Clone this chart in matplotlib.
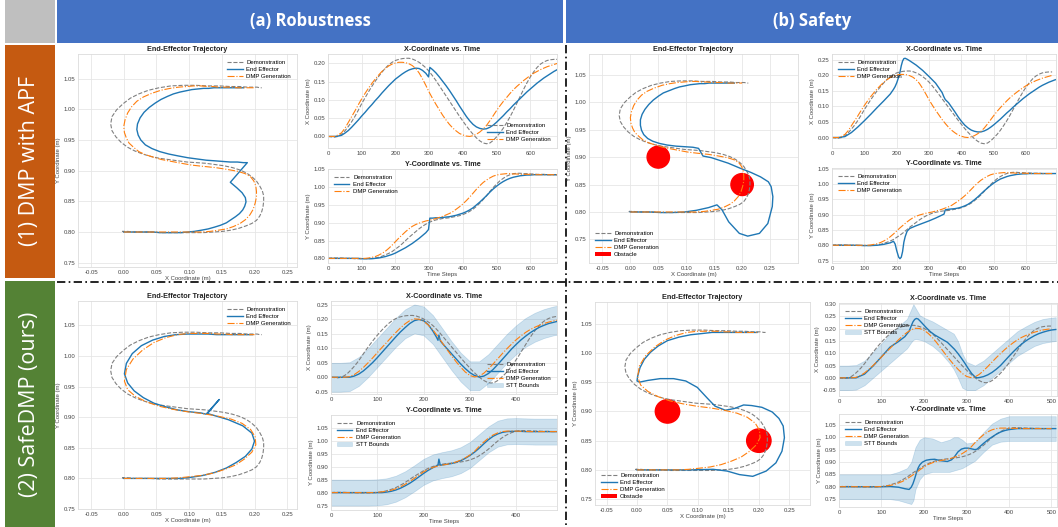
import matplotlib
matplotlib.use("Agg")
import matplotlib.pyplot as plt
import numpy as np
from matplotlib.lines import Line2D
from matplotlib.patches import Patch, Circle, Rectangle
from matplotlib.ticker import MultipleLocator

plt.rcParams['font.family'] = ['Liberation Sans', 'DejaVu Sans']
plt.rcParams['axes.unicode_minus'] = False

W, H = 1058, 527

# ---------------- demonstration + APF runs (680 steps) ----------------
t_top = np.arange(0, 681, 10)

demo_x = [0.000, -0.001, -0.002, 0.000, 0.006, 0.015, 0.027, 0.040, 0.055, 0.072, 0.090, 0.106,
          0.122, 0.137, 0.151, 0.164, 0.176, 0.187, 0.196, 0.203, 0.208, 0.211, 0.213, 0.214,
          0.214, 0.212, 0.208, 0.203, 0.196, 0.188, 0.178, 0.166, 0.153, 0.139, 0.125, 0.111,
          0.097, 0.083, 0.069, 0.055, 0.042, 0.029, 0.017, 0.006, -0.004, -0.012, -0.018, -0.020,
          -0.018, -0.011, -0.001, 0.010, 0.023, 0.038, 0.054, 0.072, 0.091, 0.110, 0.129, 0.147,
          0.163, 0.177, 0.189, 0.198, 0.204, 0.208, 0.210, 0.211, 0.211]
demo_y = [0.800, 0.801, 0.801, 0.801, 0.801, 0.800, 0.800, 0.800, 0.799, 0.799, 0.799, 0.799,
          0.799, 0.800, 0.801, 0.803, 0.806, 0.810, 0.814, 0.819, 0.826, 0.833, 0.841, 0.850,
          0.859, 0.867, 0.875, 0.883, 0.890, 0.896, 0.901, 0.905, 0.908, 0.910, 0.912, 0.913,
          0.914, 0.916, 0.918, 0.920, 0.923, 0.927, 0.932, 0.938, 0.946, 0.955, 0.965, 0.976,
          0.988, 0.999, 1.009, 1.018, 1.025, 1.031, 1.035, 1.038, 1.039, 1.039, 1.038, 1.038,
          1.037, 1.037, 1.036, 1.036, 1.036, 1.035, 1.035, 1.035, 1.035]

dmp_apf_x = [0.000, 0.000, 0.000, 0.004, 0.010, 0.022, 0.038, 0.054, 0.070, 0.087, 0.103, 0.118,
             0.132, 0.145, 0.157, 0.168, 0.178, 0.186, 0.193, 0.198, 0.201, 0.203, 0.203, 0.202,
             0.199, 0.194, 0.186, 0.174, 0.158, 0.140, 0.121, 0.104, 0.088, 0.073, 0.058, 0.045,
             0.033, 0.023, 0.015, 0.008, 0.004, 0.001, 0.000, 0.002, 0.006, 0.012, 0.020, 0.030,
             0.043, 0.057, 0.071, 0.084, 0.096, 0.107, 0.118, 0.128, 0.137, 0.145, 0.153, 0.160,
             0.167, 0.173, 0.178, 0.183, 0.187, 0.191, 0.194, 0.197, 0.200]
dmp_apf_y = [0.800, 0.800, 0.800, 0.800, 0.800, 0.800, 0.800, 0.800, 0.800, 0.800, 0.800, 0.800,
             0.801, 0.803, 0.805, 0.809, 0.814, 0.820, 0.828, 0.837, 0.847, 0.857, 0.866, 0.875,
             0.883, 0.890, 0.895, 0.899, 0.902, 0.905, 0.907, 0.909, 0.912, 0.915, 0.918, 0.922,
             0.926, 0.931, 0.938, 0.945, 0.953, 0.962, 0.972, 0.983, 0.994, 1.004, 1.013, 1.020,
             1.026, 1.031, 1.034, 1.036, 1.037, 1.038, 1.038, 1.037, 1.037, 1.036, 1.036, 1.036,
             1.036, 1.035, 1.035, 1.035, 1.035, 1.035, 1.035, 1.035, 1.035]

# APF, robustness: push at t=300
t_ee_a1 = list(range(0, 291, 10)) + [298, 302] + list(range(310, 681, 10))
ee_a1_x = [0.000, 0.000, 0.000, 0.001, 0.003, 0.009, 0.016, 0.025, 0.035, 0.045, 0.056, 0.066,
           0.077, 0.087, 0.098, 0.108, 0.119, 0.129, 0.139, 0.148, 0.157, 0.164, 0.171, 0.177,
           0.182, 0.185, 0.187, 0.186, 0.181, 0.173,
           0.163, 0.189,
           0.183, 0.174, 0.163, 0.151, 0.139, 0.126, 0.112, 0.098, 0.083, 0.069, 0.055,
           0.043, 0.033, 0.026, 0.022, 0.020, 0.021, 0.025, 0.031, 0.039, 0.048, 0.057, 0.067,
           0.076, 0.086, 0.095, 0.104, 0.113, 0.122, 0.130, 0.138, 0.146, 0.153, 0.160, 0.166,
           0.172, 0.178, 0.183]
ee_a1_y = [0.800, 0.800, 0.800, 0.800, 0.800, 0.800, 0.800, 0.800, 0.800, 0.800, 0.799, 0.799,
           0.799, 0.799, 0.800, 0.801, 0.803, 0.805, 0.808, 0.811, 0.815, 0.820, 0.825, 0.830,
           0.836, 0.842, 0.849, 0.856, 0.864, 0.872,
           0.881, 0.913,
           0.913, 0.914, 0.914, 0.915, 0.916, 0.917, 0.919, 0.921, 0.924, 0.927, 0.931,
           0.936, 0.942, 0.950, 0.958, 0.967, 0.976, 0.986, 0.995, 1.003, 1.010, 1.016, 1.021,
           1.025, 1.028, 1.030, 1.032, 1.033, 1.034, 1.034, 1.035, 1.035, 1.035, 1.035, 1.035,
           1.035, 1.035, 1.035]

# APF, safety: repelled by the two obstacles
t_ee_b1 = [0, 20, 40, 60, 80, 100, 120, 140, 160, 180, 190, 195, 200, 206, 210, 214, 218, 222,
           226, 232, 240, 260, 280, 300, 320, 340, 346, 350] + list(range(360, 691, 10))
ee_b1_x = [0.000, 0.000, 0.003, 0.016, 0.034, 0.054, 0.075, 0.097, 0.118, 0.140, 0.155, 0.164,
           0.176, 0.195, 0.210, 0.231, 0.246, 0.254, 0.255, 0.252, 0.247, 0.233, 0.216, 0.196,
           0.175, 0.145, 0.130, 0.122,
           0.112, 0.097, 0.082, 0.066, 0.052, 0.040, 0.031, 0.024, 0.020, 0.018, 0.018, 0.021,
           0.026, 0.033, 0.041, 0.050, 0.059, 0.069, 0.079, 0.088, 0.098, 0.107, 0.116, 0.125,
           0.133, 0.141, 0.148, 0.155, 0.162, 0.168, 0.173, 0.178, 0.182, 0.186]
ee_b1_y = [0.800, 0.800, 0.800, 0.800, 0.800, 0.799, 0.799, 0.800, 0.803, 0.808, 0.813, 0.804,
           0.782, 0.761, 0.756, 0.761, 0.779, 0.810, 0.828, 0.846, 0.855, 0.864, 0.872, 0.880,
           0.889, 0.899, 0.902, 0.916,
           0.918, 0.919, 0.920, 0.922, 0.925, 0.929, 0.934, 0.941, 0.949, 0.958, 0.968, 0.978,
           0.987, 0.996, 1.004, 1.011, 1.017, 1.021, 1.025, 1.028, 1.030, 1.032, 1.033, 1.034,
           1.034, 1.035, 1.035, 1.035, 1.035, 1.035, 1.035, 1.035, 1.035, 1.035]

# ---------------- SafeDMP runs (~500 steps) ----------------
t_demo_bot = np.linspace(0, 500, len(demo_x))
t_bot = np.arange(0, 501, 10)
t_stt_a = np.arange(0, 501, 20)

dmp_safe_x = [0.000, 0.000, 0.000, 0.000, 0.002, 0.009, 0.020, 0.034, 0.050, 0.067, 0.085, 0.103,
              0.120, 0.138, 0.155, 0.171, 0.185, 0.196, 0.202, 0.201, 0.194, 0.181, 0.164, 0.143,
              0.120, 0.097, 0.075, 0.054, 0.035, 0.018, 0.006, 0.001, 0.004, 0.014, 0.029, 0.046,
              0.064, 0.082, 0.099, 0.115, 0.130, 0.143, 0.155, 0.165, 0.173, 0.180, 0.186, 0.191,
              0.195, 0.198, 0.200]
dmp_safe_y = [0.800, 0.800, 0.800, 0.800, 0.800, 0.800, 0.800, 0.800, 0.800, 0.800, 0.801, 0.803,
              0.805, 0.809, 0.815, 0.822, 0.832, 0.843, 0.855, 0.868, 0.880, 0.890, 0.897, 0.902,
              0.906, 0.909, 0.913, 0.918, 0.925, 0.934, 0.945, 0.959, 0.978, 0.995, 1.010, 1.022,
              1.030, 1.035, 1.037, 1.037, 1.037, 1.036, 1.036, 1.035, 1.035, 1.035, 1.035, 1.035,
              1.035, 1.035, 1.035]

stt_a_x_hi = [0.050, 0.050, 0.052, 0.070, 0.100, 0.135, 0.170, 0.205, 0.235, 0.252, 0.245, 0.215,
              0.170, 0.125, 0.085, 0.055, 0.055, 0.080, 0.115, 0.150, 0.180, 0.205, 0.223, 0.236,
              0.245, 0.250]
stt_a_x_lo = [-0.050, -0.050, -0.048, -0.030, 0.000, 0.035, 0.070, 0.105, 0.135, 0.152, 0.145,
              0.115, 0.070, 0.025, -0.015, -0.045, -0.045, -0.020, 0.015, 0.050, 0.080, 0.105,
              0.123, 0.136, 0.145, 0.150]
stt_a_y_hi = [0.850, 0.850, 0.850, 0.850, 0.850, 0.851, 0.855, 0.865, 0.882, 0.905, 0.930, 0.947,
              0.956, 0.963, 0.975, 0.995, 1.025, 1.055, 1.077, 1.086, 1.087, 1.086, 1.085, 1.085,
              1.085, 1.085]
stt_a_y_lo = [0.750, 0.750, 0.750, 0.750, 0.750, 0.751, 0.755, 0.765, 0.782, 0.805, 0.830, 0.847,
              0.856, 0.863, 0.875, 0.895, 0.925, 0.955, 0.977, 0.986, 0.987, 0.986, 0.985, 0.985,
              0.985, 0.985]

# SafeDMP, robustness: push at t~232
t_ee_a2 = list(range(0, 221, 10)) + [228, 231, 233, 236] + list(range(240, 501, 10))
ee_a2_x = [0.000, 0.000, 0.000, 0.000, 0.000, 0.004, 0.011, 0.022, 0.036, 0.051, 0.068, 0.086,
           0.104, 0.122, 0.140, 0.157, 0.172, 0.186, 0.196, 0.200, 0.196, 0.182, 0.160,
           0.138, 0.128, 0.146, 0.126,
           0.118, 0.100, 0.082, 0.064, 0.046, 0.030, 0.016, 0.006, 0.001, 0.004, 0.013, 0.027,
           0.044, 0.062, 0.080, 0.098, 0.114, 0.129, 0.142, 0.154, 0.164, 0.173, 0.180, 0.186,
           0.190, 0.194, 0.197]
ee_a2_y = [0.800, 0.800, 0.800, 0.800, 0.800, 0.800, 0.800, 0.800, 0.800, 0.800, 0.800, 0.800,
           0.802, 0.805, 0.810, 0.817, 0.826, 0.836, 0.848, 0.861, 0.874, 0.886, 0.896,
           0.903, 0.906, 0.929, 0.905,
           0.907, 0.909, 0.912, 0.917, 0.923, 0.932, 0.943, 0.956, 0.971, 0.988, 1.004, 1.017,
           1.026, 1.032, 1.035, 1.036, 1.036, 1.036, 1.035, 1.035, 1.035, 1.035, 1.035, 1.035,
           1.035, 1.035, 1.035]

# SafeDMP, safety
t_ee_b2 = [0, 20, 40, 60, 80, 100, 120, 140, 155, 165, 170, 174, 178, 182, 186, 190, 196, 205,
           215, 225, 240, 255, 265, 272, 280, 288, 296, 304, 312, 320, 325] + list(range(330, 511, 10))
ee_b2_x = [0.000, 0.000, 0.000, 0.015, 0.048, 0.086, 0.125, 0.148,
           0.168, 0.190, 0.212, 0.228, 0.238, 0.242, 0.240, 0.233, 0.222, 0.205, 0.188, 0.175,
           0.160, 0.145, 0.128, 0.116, 0.099, 0.080, 0.060, 0.038, 0.018, 0.004, 0.000,
           0.001, 0.005, 0.012, 0.022, 0.035, 0.050, 0.069, 0.088, 0.106, 0.123, 0.138, 0.151,
           0.162, 0.172, 0.180, 0.186, 0.191, 0.195, 0.197]
ee_b2_y = [0.800, 0.800, 0.800, 0.800, 0.800, 0.800, 0.801, 0.798,
           0.792, 0.789, 0.798, 0.812, 0.832, 0.855, 0.875, 0.888, 0.899, 0.907, 0.910, 0.911,
           0.905, 0.902, 0.909, 0.922, 0.941, 0.952, 0.956, 0.956, 0.953, 0.950, 0.952,
           0.960, 0.975, 0.989, 1.001, 1.012, 1.021, 1.027, 1.031, 1.033, 1.035, 1.035, 1.035,
           1.035, 1.035, 1.035, 1.035, 1.035, 1.035, 1.035]

t_stt_b2 = [0, 20, 40, 60, 80, 100, 120, 140, 160, 170, 175, 180, 190, 200, 220, 240, 260, 270,
            280, 290, 300, 320, 340, 360, 380, 400, 420, 440, 460, 480, 500, 510]
stt_b_x_hi = [0.050, 0.050, 0.052, 0.070, 0.105, 0.140, 0.180, 0.210, 0.240, 0.280, 0.300, 0.285,
              0.255, 0.245, 0.230, 0.210, 0.190, 0.180, 0.150, 0.100, 0.065, 0.050, 0.070, 0.100,
              0.130, 0.160, 0.190, 0.210, 0.228, 0.240, 0.245, 0.247]
stt_b_x_lo = [-0.050, -0.050, -0.048, -0.030, 0.000, 0.030, 0.060, 0.090, 0.120, 0.145, 0.155,
              0.158, 0.155, 0.150, 0.130, 0.100, 0.060, 0.035, 0.000, -0.040, -0.050, -0.050,
              -0.030, 0.000, 0.030, 0.060, 0.090, 0.110, 0.130, 0.142, 0.148, 0.150]
stt_b_y_hi = [0.850, 0.850, 0.850, 0.850, 0.850, 0.850, 0.850, 0.860, 0.875, 0.900, 0.930, 0.960,
              0.990, 1.000, 0.995, 0.980, 0.990, 1.000, 1.000, 0.990, 0.975, 0.980, 1.020, 1.055,
              1.075, 1.085, 1.085, 1.085, 1.085, 1.085, 1.085, 1.085]
stt_b_y_lo = [0.750, 0.750, 0.750, 0.750, 0.750, 0.750, 0.750, 0.745, 0.735, 0.730, 0.745, 0.790,
              0.830, 0.850, 0.860, 0.860, 0.860, 0.865, 0.870, 0.875, 0.885, 0.905, 0.940, 0.970,
              0.982, 0.985, 0.985, 0.985, 0.985, 0.985, 0.985, 0.985]

obstacles = [(0.05, 0.90), (0.20, 0.85)]
obstacle_r = 0.02

C_DEMO, C_EE, C_DMP = 'gray', '#1f77b4', '#ff7f0e'
FS = 4.3


def box(l, t, r, b):
    return [l / W, 1 - b / H, (r - l) / W, (b - t) / H]


def style(ax, title):
    ax.set_facecolor('white')
    ax.grid(True, color='#e6e6e6', lw=0.6)
    ax.set_axisbelow(True)
    for s in ax.spines.values():
        s.set_color('#dcdcdc')
        s.set_linewidth(0.6)
    ax.tick_params(length=0, labelsize=FS, colors='#444444', pad=2)
    ax.set_title(title, fontsize=5.2, fontweight='bold', pad=2.5, color='#222222')


def label(ax, xl=None, yl=None):
    if xl:
        ax.set_xlabel(xl, fontsize=FS, color='#444444', labelpad=1)
    if yl:
        ax.set_ylabel(yl, fontsize=FS, color='#444444', labelpad=2)


def legend(ax, loc, stt=False, obstacle=False):
    h, l = ax.get_legend_handles_labels()
    if stt:
        h.append(Patch(facecolor=C_EE, alpha=0.22, edgecolor=C_EE, lw=0.4))
        l.append('STT Bounds')
    if obstacle:
        h.append(Patch(facecolor='red', edgecolor='none'))
        l.append('Obstacle')
    ax.legend(h, l, loc=loc, fontsize=FS, frameon=False, handlelength=2.6,
              labelspacing=0.3, borderpad=0.5, handletextpad=0.6)


def curves(ax, td, dx, tm, mx, te, ex):
    ax.plot(td, dx, '--', color=C_DEMO, lw=0.8, label='Demonstration')
    ax.plot(te, ex, '-', color=C_EE, lw=1.0, label='End Effector')
    ax.plot(tm, mx, '-.', color=C_DMP, lw=0.8, label='DMP Generation')


def fixed_y(ax, lo, hi):
    ax.set_ylim(lo, hi)
    ax.yaxis.set_major_locator(MultipleLocator(0.05))
    ax.yaxis.set_major_formatter('{x:.2f}')


def trajectory(ax, dx, dy, mx, my, ex, ey, xlim, ylim, loc, obst=False):
    style(ax, 'End-Effector Trajectory')
    if obst:
        for c in obstacles:
            ax.add_patch(Circle(c, obstacle_r, color='red', zorder=3))
    ax.plot(dx, dy, '--', color=C_DEMO, lw=0.8, label='Demonstration', zorder=4)
    ax.plot(ex, ey, '-', color=C_EE, lw=1.0, label='End Effector', zorder=4)
    ax.plot(mx, my, '-.', color=C_DMP, lw=0.8, label='DMP Generation', zorder=4)
    ax.set_xlim(*xlim)
    ax.set_ylim(*ylim)
    ax.set_xticks(np.arange(-0.05, 0.26, 0.05))
    ax.set_yticks(np.arange(0.75, 1.06, 0.05))
    ax.xaxis.set_major_formatter('{x:.2f}')
    ax.yaxis.set_major_formatter('{x:.2f}')
    label(ax, 'X Coordinate (m)', 'Y Coordinate (m)')
    legend(ax, loc, obstacle=obst)


fig = plt.figure(figsize=(W / 100, H / 100), dpi=100)


def cell(l, t, r, b, color):
    fig.add_artist(Rectangle((l / W, 1 - b / H), (r - l) / W, (b - t) / H,
                             transform=fig.transFigure, color=color, lw=0))


# header row and row labels
cell(5, 0, 55, 43, '#bfbfbf')
cell(57, 0, 563, 43, '#4472c4')
cell(566, 0, 1058, 43, '#4472c4')
cell(5, 45, 55, 278, '#c55a11')
cell(5, 281, 55, 527, '#548235')
fig.text(310 / W, 1 - 21 / H, '(a) Robustness', color='white', fontsize=12, fontweight='bold',
         family='Open Sans', ha='center', va='center')
fig.text(812 / W, 1 - 21 / H, '(b) Safety', color='white', fontsize=12, fontweight='bold',
         family='Open Sans', ha='center', va='center')
fig.text(30 / W, 1 - 161 / H, '(1) DMP with APF', color='white', fontsize=15.5, family='Open Sans',
         rotation=90, ha='center', va='center')
fig.text(30 / W, 1 - 404 / H, '(2) SafeDMP (ours)', color='white', fontsize=15.5, family='Open Sans',
         rotation=90, ha='center', va='center')

fig.add_artist(Line2D([57 / W, 1], [1 - 282 / H] * 2, transform=fig.transFigure, color='black',
                      lw=1.2, ls=(0, (5, 2, 1, 2))))
fig.add_artist(Line2D([566 / W] * 2, [1 - 45 / H, 0], transform=fig.transFigure, color='black',
                      lw=1.2, ls=(0, (5, 2, 1, 2))))

# ---------------- (1)(a) APF robustness ----------------
ax = fig.add_axes(box(78, 54, 297, 267))
trajectory(ax, demo_x, demo_y, dmp_apf_x, dmp_apf_y, ee_a1_x, ee_a1_y,
           (-0.07, 0.265), (0.743, 1.09), 'upper right')

ax = fig.add_axes(box(328, 54, 557, 148))
style(ax, 'X-Coordinate vs. Time')
curves(ax, t_top, demo_x, t_top, dmp_apf_x, t_ee_a1, ee_a1_x)
ax.set_xlim(0, 679)
label(ax, yl='X Coordinate (m)')
legend(ax, 'lower right')

ax = fig.add_axes(box(328, 169, 557, 263))
style(ax, 'Y-Coordinate vs. Time')
curves(ax, t_top, demo_y, t_top, dmp_apf_y, t_ee_a1, ee_a1_y)
ax.set_xlim(0, 679)
label(ax, 'Time Steps', 'Y Coordinate (m)')
legend(ax, 'upper left')

# ---------------- (1)(b) APF safety ----------------
ax = fig.add_axes(box(589, 54, 798, 263))
trajectory(ax, demo_x, demo_y, dmp_apf_x, dmp_apf_y, ee_b1_x, ee_b1_y,
           (-0.074, 0.30), (0.707, 1.088), 'lower left', obst=True)

ax = fig.add_axes(box(832, 54, 1056, 148))
style(ax, 'X-Coordinate vs. Time')
curves(ax, t_top, demo_x, t_top, dmp_apf_x, t_ee_b1, ee_b1_x)
ax.set_xlim(0, 692)
label(ax, yl='X Coordinate (m)')
legend(ax, 'upper left')

ax = fig.add_axes(box(832, 168, 1056, 263))
style(ax, 'Y-Coordinate vs. Time')
curves(ax, t_top, demo_y, t_top, dmp_apf_y, t_ee_b1, ee_b1_y)
ax.set_xlim(0, 692)
label(ax, 'Time Steps', 'Y Coordinate (m)')
legend(ax, 'upper left')

# ---------------- (2)(a) SafeDMP robustness ----------------
ax = fig.add_axes(box(78, 301, 297, 509))
trajectory(ax, demo_x, demo_y, dmp_safe_x, dmp_safe_y, ee_a2_x, ee_a2_y,
           (-0.07, 0.265), (0.75, 1.09), 'upper right')

ax = fig.add_axes(box(331, 301, 557, 394))
style(ax, 'X-Coordinate vs. Time')
ax.fill_between(t_stt_a, stt_a_x_lo, stt_a_x_hi, color=C_EE, alpha=0.22, lw=0.5)
curves(ax, t_demo_bot, demo_x, t_bot, dmp_safe_x, t_ee_a2, ee_a2_x)
ax.set_xlim(0, 488)
fixed_y(ax, -0.058, 0.264)
label(ax, yl='X Coordinate (m)')
legend(ax, 'lower right', stt=True)

ax = fig.add_axes(box(331, 415, 557, 510))
style(ax, 'Y-Coordinate vs. Time')
ax.fill_between(t_stt_a, stt_a_y_lo, stt_a_y_hi, color=C_EE, alpha=0.22, lw=0.5)
curves(ax, t_demo_bot, demo_y, t_bot, dmp_safe_y, t_ee_a2, ee_a2_y)
ax.set_xlim(0, 488)
fixed_y(ax, 0.733, 1.099)
label(ax, 'Time Steps', 'Y Coordinate (m)')
legend(ax, 'upper left', stt=True)

# ---------------- (2)(b) SafeDMP safety ----------------
ax = fig.add_axes(box(595, 302, 810, 505))
trajectory(ax, demo_x, demo_y, dmp_safe_x, dmp_safe_y, ee_b2_x, ee_b2_y,
           (-0.069, 0.284), (0.74, 1.087), 'lower left', obst=True)

ax = fig.add_axes(box(839, 303, 1057, 396))
style(ax, 'X-Coordinate vs. Time')
ax.fill_between(t_stt_b2, stt_b_x_lo, stt_b_x_hi, color=C_EE, alpha=0.22, lw=0.5)
curves(ax, t_demo_bot, demo_x, t_bot, dmp_safe_x, t_ee_b2, ee_b2_x)
ax.set_xlim(0, 513)
fixed_y(ax, -0.074, 0.305)
label(ax, yl='X Coordinate (m)')
legend(ax, 'upper left', stt=True)

ax = fig.add_axes(box(839, 414, 1057, 507))
style(ax, 'Y-Coordinate vs. Time')
ax.fill_between(t_stt_b2, stt_b_y_lo, stt_b_y_hi, color=C_EE, alpha=0.22, lw=0.5)
curves(ax, t_demo_bot, demo_y, t_bot, dmp_safe_y, t_ee_b2, ee_b2_y)
ax.set_xlim(0, 513)
fixed_y(ax, 0.718, 1.094)
label(ax, 'Time Steps', 'Y Coordinate (m)')
legend(ax, 'upper left', stt=True)

fig.savefig('out.png', dpi=100)
